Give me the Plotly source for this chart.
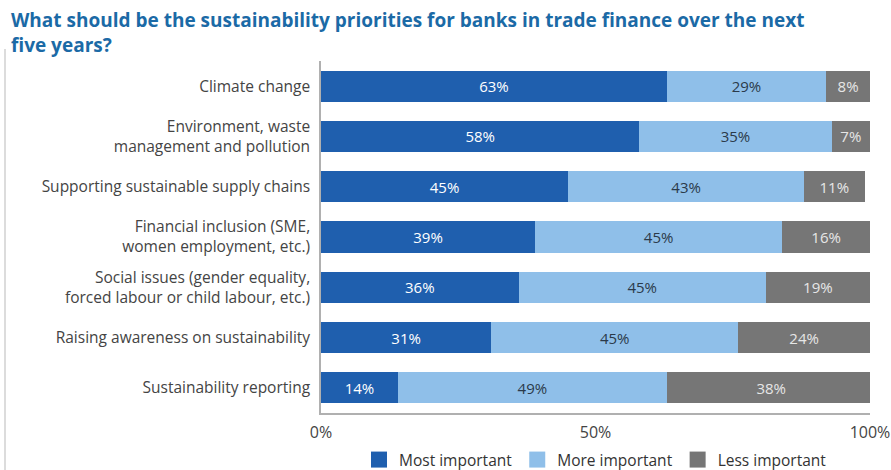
import plotly.graph_objects as go

categories = [
    "Climate change",
    "Environment, waste<br>management and pollution",
    "Supporting sustainable supply chains",
    "Financial inclusion (SME,<br>women employment, etc.)",
    "Social issues (gender equality,<br>forced labour or child labour, etc.)",
    "Raising awareness on sustainability",
    "Sustainability reporting",
]
most_important = [63, 58, 45, 39, 36, 31, 14]
more_important = [29, 35, 43, 45, 45, 45, 49]
less_important = [8, 7, 11, 16, 19, 24, 38]
tick_vals = [0, 50, 100]
tick_text = ["0%", "50%", "100%"]

series = [
    ("Most important", most_important, "#1f5fae", "#ffffff"),
    ("More important", more_important, "#8fbfe9", "#2b3a4a"),
    ("Less important", less_important, "#767676", "#e6e6e6"),
]

W, H = 891, 470
ML, MR, MT, MB = 321, 21, 61, 57
PW, PH = W - ML - MR, H - MT - MB

fig = go.Figure()
for name, vals, color, tcolor in series:
    fig.add_trace(go.Bar(
        y=categories, x=vals, name=name, orientation="h",
        marker=dict(color=color, line=dict(width=0)),
        text=[f"{v}%" for v in vals], textposition="inside",
        insidetextanchor="middle",
        textfont=dict(color=tcolor, size=15, family="Open Sans"),
        hoverinfo="skip", showlegend=False,
    ))
for name, vals, color, tcolor in series:
    fig.add_trace(go.Scatter(
        x=[None], y=[None], mode="markers", name=name,
        marker=dict(symbol="square", size=18, color=color),
        hoverinfo="skip",
    ))

fig.update_layout(
    barmode="stack",
    bargap=0.38,
    width=W, height=H,
    margin=dict(l=ML, r=MR, t=MT, b=MB, autoexpand=False),
    paper_bgcolor="white", plot_bgcolor="white",
    font=dict(family="Open Sans", size=14, color="#444444"),
    legend=dict(orientation="h", x=0.5, xanchor="center", y=-47 / PH, yanchor="middle",
                font=dict(size=15.5, color="#333333"), traceorder="normal",
                itemsizing="trace"),
    uniformtext=dict(minsize=8, mode="show"),
)
fig.add_annotation(
    text="<b>What should be the sustainability priorities for banks in trade finance over the next<br>five years?</b>",
    xref="paper", yref="paper", x=-(ML - 9) / PW, y=1 + (MT - 5) / PH,
    xanchor="left", yanchor="top", align="left", showarrow=False,
    font=dict(size=19, color="#1b6aa6", family="Open Sans"),
)
fig.update_xaxes(
    range=[0, 100], tickvals=tick_vals, ticktext=tick_text,
    showgrid=False, zeroline=False, showline=True, linecolor="#b0b0b0", linewidth=1.5,
    tickfont=dict(size=16, color="#444444"), ticks="", ticklabelstandoff=4,
    automargin=False,
)
fig.update_yaxes(
    categoryorder="array", categoryarray=categories, autorange="reversed",
    showgrid=False, showline=True, linecolor="#b0b0b0", linewidth=1.5,
    tickfont=dict(size=15.5, color="#444444"), ticks="", ticklabelstandoff=6,
    automargin=False,
)
fig.add_shape(type="line", xref="paper", yref="paper",
              x0=-(ML - 5) / PW, x1=-(ML - 5) / PW, y0=-MB / PH, y1=1 + 12 / PH,
              line=dict(color="#d0d0d0", width=1.5))

fig.write_html("out.html")
